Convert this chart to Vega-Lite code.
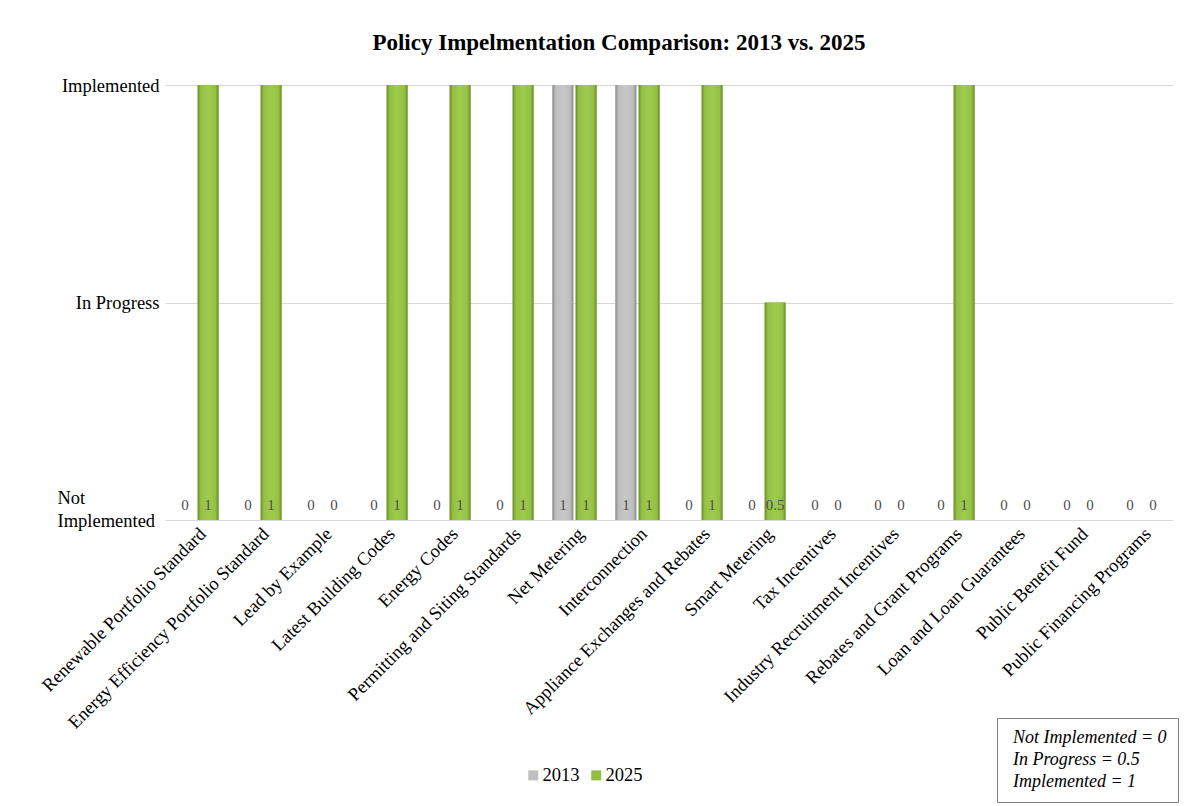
{
  "$schema": "https://vega.github.io/schema/vega-lite/v6.json",
  "width": 1008,
  "height": 435,
  "autosize": "none",
  "padding": {"left": 165, "top": 85, "right": 12, "bottom": 286},
  "background": "white",
  "title": {
    "text": "Policy Impelmentation Comparison: 2013 vs. 2025",
    "font": "Liberation Serif",
    "fontSize": 23,
    "fontWeight": "bold",
    "color": "#000000",
    "anchor": "middle",
    "dx": -50,
    "offset": 21
  },
  "config": {
    "view": {"stroke": null},
    "font": "Liberation Serif"
  },
  "datasets": {
    "policy": [
      {"policy": "Renewable Portfolio Standard", "year": "2013", "value": 0},
      {"policy": "Renewable Portfolio Standard", "year": "2025", "value": 1},
      {"policy": "Energy Efficiency Portfolio Standard", "year": "2013", "value": 0},
      {"policy": "Energy Efficiency Portfolio Standard", "year": "2025", "value": 1},
      {"policy": "Lead by Example", "year": "2013", "value": 0},
      {"policy": "Lead by Example", "year": "2025", "value": 0},
      {"policy": "Latest Building Codes", "year": "2013", "value": 0},
      {"policy": "Latest Building Codes", "year": "2025", "value": 1},
      {"policy": "Energy Codes", "year": "2013", "value": 0},
      {"policy": "Energy Codes", "year": "2025", "value": 1},
      {"policy": "Permitting and Siting Standards", "year": "2013", "value": 0},
      {"policy": "Permitting and Siting Standards", "year": "2025", "value": 1},
      {"policy": "Net Metering", "year": "2013", "value": 1},
      {"policy": "Net Metering", "year": "2025", "value": 1},
      {"policy": "Interconnection", "year": "2013", "value": 1},
      {"policy": "Interconnection", "year": "2025", "value": 1},
      {"policy": "Appliance Exchanges and Rebates", "year": "2013", "value": 0},
      {"policy": "Appliance Exchanges and Rebates", "year": "2025", "value": 1},
      {"policy": "Smart Metering", "year": "2013", "value": 0},
      {"policy": "Smart Metering", "year": "2025", "value": 0.5},
      {"policy": "Tax Incentives", "year": "2013", "value": 0},
      {"policy": "Tax Incentives", "year": "2025", "value": 0},
      {"policy": "Industry Recruitment Incentives", "year": "2013", "value": 0},
      {"policy": "Industry Recruitment Incentives", "year": "2025", "value": 0},
      {"policy": "Rebates and Grant Programs", "year": "2013", "value": 0},
      {"policy": "Rebates and Grant Programs", "year": "2025", "value": 1},
      {"policy": "Loan and Loan Guarantees", "year": "2013", "value": 0},
      {"policy": "Loan and Loan Guarantees", "year": "2025", "value": 0},
      {"policy": "Public Benefit Fund", "year": "2013", "value": 0},
      {"policy": "Public Benefit Fund", "year": "2025", "value": 0},
      {"policy": "Public Financing Programs", "year": "2013", "value": 0},
      {"policy": "Public Financing Programs", "year": "2025", "value": 0}
    ],
    "notes": [
      {"note": "Not Implemented = 0"},
      {"note": "In Progress = 0.5"},
      {"note": "Implemented = 1"}
    ]
  },
  "encoding": {
    "x": {
      "field": "policy",
      "type": "nominal",
      "sort": null,
      "scale": {"paddingInner": 0.3, "paddingOuter": 0.15},
      "axis": {
        "title": null,
        "labelAngle": -45,
        "labelAlign": "right",
        "labelBaseline": "top",
        "labelFont": "Liberation Serif",
        "labelFontSize": 18.5,
        "labelColor": "#000000",
        "labelLimit": 0,
        "labelPadding": 4,
        "ticks": false,
        "domainColor": "#d9d9d9",
        "domainWidth": 1
      }
    },
    "xOffset": {"field": "year", "type": "nominal", "scale": {"domain": ["2013", "2025"], "paddingInner": 0.1}}
  },
  "layer": [
    {
      "data": {"name": "policy"},
      "mark": {"type": "bar"},
      "encoding": {
        "y": {
          "field": "value",
          "type": "quantitative",
          "scale": {"domain": [0, 1], "nice": false},
          "axis": {
            "title": null,
            "values": [0, 0.5, 1],
            "labelExpr": "datum.value == 1 ? 'Implemented' : datum.value == 0.5 ? 'In Progress' : ['Not', 'Implemented']",
            "labelFont": "Liberation Serif",
            "labelFontSize": 18.5,
            "labelColor": "#000000",
            "labelPadding": {"condition": {"test": "datum.value == 0", "value": 108}, "value": 6},
            "labelAlign": {"condition": {"test": "datum.value == 0", "value": "left"}, "value": "right"},
            "labelLineHeight": 23,
            "labelBaseline": "middle",
            "labelOffset": {"condition": {"test": "datum.value == 0", "value": -23}, "value": 0},
            "labelLimit": 0,
            "domain": false,
            "ticks": false,
            "gridColor": "#d9d9d9",
            "gridWidth": 1
          }
        },
        "color": {
          "field": "year",
          "type": "nominal",
          "scale": {"domain": ["2013", "2025"], "range": ["#c0c0c0", "#92bf42"]},
          "legend": {
            "title": null,
            "orient": "none",
            "legendX": 359,
            "legendY": 681,
            "padding": 0,
            "direction": "horizontal",
            "symbolType": "square",
            "symbolSize": 100,
            "symbolStrokeWidth": 0,
            "labelFont": "Liberation Serif",
            "labelFontSize": 18.5,
            "labelColor": "#000000",
            "labelOffset": 0,
            "columnPadding": 7
          }
        }
      }
    },
    {
      "data": {"name": "policy"},
      "transform": [{"filter": "datum.year == '2013'"}],
      "mark": {
        "type": "bar",
        "fill": {"gradient": "linear", "x1": 0, "y1": 0, "x2": 1, "y2": 0, "stops": [
          {"offset": 0, "color": "#8a8a8a"},
          {"offset": 0.15, "color": "#bdbdbd"},
          {"offset": 0.5, "color": "#c8c8c8"},
          {"offset": 0.85, "color": "#bdbdbd"},
          {"offset": 1, "color": "#8a8a8a"}
        ]}
      },
      "encoding": {
        "y": {"field": "value", "type": "quantitative"}
      }
    },
    {
      "data": {"name": "policy"},
      "transform": [{"filter": "datum.year == '2025'"}],
      "mark": {
        "type": "bar",
        "fill": {"gradient": "linear", "x1": 0, "y1": 0, "x2": 1, "y2": 0, "stops": [
          {"offset": 0, "color": "#6b8c2c"},
          {"offset": 0.15, "color": "#94c144"},
          {"offset": 0.5, "color": "#9fcb4d"},
          {"offset": 0.85, "color": "#94c144"},
          {"offset": 1, "color": "#6b8c2c"}
        ]}
      },
      "encoding": {
        "y": {"field": "value", "type": "quantitative"}
      }
    },
    {
      "data": {"name": "policy"},
      "mark": {"type": "text", "baseline": "middle", "dy": -15, "font": "Liberation Serif", "fontSize": 15, "color": "#4d4d4d"},
      "encoding": {
        "y": {"datum": 0, "type": "quantitative"},
        "text": {"field": "value", "type": "quantitative", "format": "~g"}
      }
    },
    {
      "data": {"name": "notes"},
      "mark": {"type": "point", "opacity": 0},
      "encoding": {
        "x": null,
        "xOffset": null,
        "shape": {
          "field": "note",
          "type": "nominal",
          "sort": null,
          "scale": {"domain": ["Not Implemented = 0", "In Progress = 0.5", "Implemented = 1"]},
          "legend": {
            "title": null,
            "orient": "none",
            "legendX": 832,
            "legendY": 633,
            "symbolType": "circle",
            "symbolSize": 1,
            "symbolOpacity": 0,
            "symbolStrokeWidth": 0,
            "labelOffset": -13,
            "labelFont": "Liberation Serif",
            "labelFontSize": 18,
            "labelFontStyle": "italic",
            "labelColor": "#000000",
            "labelLimit": 0,
            "rowPadding": 4,
            "padding": 11,
            "strokeColor": "#808080",
            "fillColor": "#ffffff"
          }
        }
      }
    }
  ]
}
